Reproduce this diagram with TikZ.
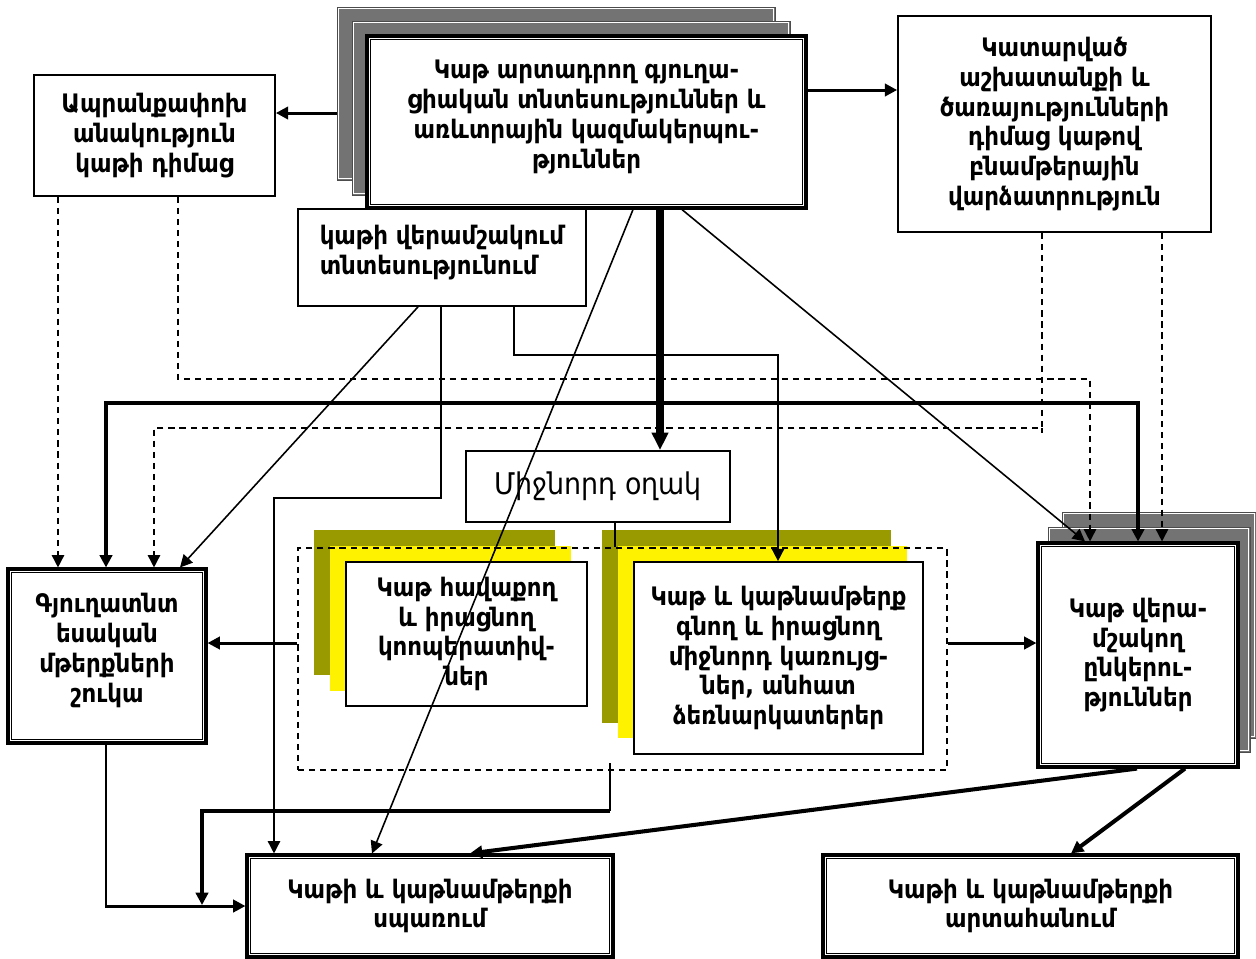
\documentclass[tikz,border=0pt]{standalone}
\usepackage{fontspec}
\newfontfamily\arm{DejaVu Sans Condensed}
\usetikzlibrary{arrows.meta}
\definecolor{olivey}{RGB}{153,153,0}
\definecolor{shgray}{gray}{0.45}
\newcommand\innerframe[1]{\draw[line width=0.6pt] ([shift={(5,5)}]#1.north west) rectangle ([shift={(-5,-5)}]#1.south east);}
\newcommand\shline[1]{\draw[white, line width=0.4pt] ([shift={(2,2)}]#1.north west) rectangle ([shift={(-2,-2)}]#1.south east);}
\begin{document}
\begin{tikzpicture}[x=0.02cm,y=-0.02cm,
  tx/.style={font=\arm\bfseries\fontsize{14.5}{17}\selectfont, align=center},
  box/.style={draw, line width=1pt, fill=white, tx, inner sep=0pt},
  dbox/.style={box, line width=1.8pt},
  shadowg/.style={draw=black!70, line width=0.4pt, fill=shgray, inner sep=0pt},
  flat/.style={inner sep=0pt, draw=none},
  ln/.style={line width=0.9pt},
  med/.style={line width=1.7pt},
  thk/.style={line width=2.3pt},
  dsh/.style={line width=0.9pt, dash pattern=on 3.5pt off 2.8pt},
  arr/.style={-{Triangle[length=7pt,width=7pt]}},
  barr/.style={{Triangle[length=7pt,width=7pt]}-{Triangle[length=7pt,width=7pt]}}
]
\useasboundingbox (0,0) rectangle (1256,958);

% shadows
\node[shadowg, minimum width=8.76cm, minimum height=3.46cm] (As1) at (556,93.5) {};
\shline{As1}
\node[shadowg, minimum width=8.76cm, minimum height=3.48cm] (As2) at (571,108) {};
\shline{As2}
\node[shadowg, minimum width=3.88cm, minimum height=4.52cm] (Is1) at (1159,625) {};
\shline{Is1}
\node[shadowg, minimum width=4.04cm, minimum height=4.50cm] (Is2) at (1149,639.5) {};
\shline{Is2}
\node[flat, fill=olivey, minimum width=4.82cm, minimum height=2.90cm] (Fo) at (434.5,602.5) {};
\node[flat, fill=yellow, minimum width=4.82cm, minimum height=2.90cm] (Fy) at (450.5,618.5) {};
\node[flat, fill=olivey, minimum width=5.78cm, minimum height=3.86cm] (Go) at (746.5,626.5) {};
\node[flat, fill=yellow, minimum width=5.78cm, minimum height=3.84cm] (Gy) at (762.5,642) {};

% dashed group
\node[dsh, draw, minimum width=12.98cm, minimum height=4.44cm, inner sep=0pt] (grp) at (622.5,659) {};

% boxes
\node[dbox, minimum width=8.78cm, minimum height=3.44cm] (A) at (586.5,122) {Կաթ արտադրող գյուղա-\\ցիական տնտեսություններ և\\առևտրային կազմակերպու-\\թյուններ\\[-8pt]\mbox{}};
\node[box, minimum width=4.82cm, minimum height=2.42cm] (B) at (154.5,135.5) {Ապրանքափոխ\\անակություն\\կաթի դիմաց};
\node[box, minimum width=6.26cm, minimum height=4.32cm] (C) at (1054.5,124) {Կատարված\\աշխատանքի և\\ծառայությունների\\դիմաց կաթով\\բնամթերային\\վարձատրություն};
\node[box, minimum width=5.76cm, minimum height=1.94cm, align=left] (D) at (442,257.5) {կաթի վերամշակում\\տնտեսությունում\\[-8pt]\mbox{}};
\node[box, minimum width=5.28cm, minimum height=1.42cm, font=\arm\fontsize{17}{20}\selectfont] (E) at (598,486.5) {Միջնորդ օղակ};
\node[box, minimum width=4.82cm, minimum height=2.88cm] (F) at (466.5,634) {Կաթ հավաքող\\և իրացնող\\կոոպերատիվ-\\ներ};
\node[box, minimum width=5.78cm, minimum height=3.84cm] (G) at (778.5,658) {Կաթ և կաթնամթերք\\գնող և իրացնող\\միջնորդ կառույց-\\ներ, անհատ\\ձեռնարկատերեր};
\node[dbox, minimum width=3.96cm, minimum height=3.48cm] (H) at (107,656) {Գյուղատնտ\\եսական\\մթերքների\\շուկա\\[-8pt]\mbox{}};
\node[dbox, minimum width=4.00cm, minimum height=4.48cm] (I) at (1138,655) {Կաթ վերա-\\մշակող\\ընկերու-\\թյուններ};
\node[dbox, minimum width=7.32cm, minimum height=2.04cm] (J) at (430,906) {Կաթի և կաթնամթերքի\\սպառում};
\node[dbox, minimum width=8.30cm, minimum height=2.04cm] (K) at (1030.5,906) {Կաթի և կաթնամթերքի\\արտահանում};
\innerframe{A}\innerframe{H}\innerframe{I}\innerframe{J}\innerframe{K}

\coordinate (hj) at (202,905);

% connectors
\draw[med, arr] (As1.west |- 0,113) -- (B.east |- 0,113);
\draw[med, arr] (A.east |- 0,90) -- (C.west |- 0,90);
\draw[line width=4pt, -{Triangle[length=10pt,width=9pt]}] (660,0 |- A.south) -- (660,0 |- E.north);
\draw[ln, arr] (633,0 |- A.south) -- (372,0 |- J.north);
\draw[ln, arr] (682,0 |- A.south) -- (1085,0 |- I.north);

\draw[ln, arr] (418,0 |- D.south) -- (180,0 |- H.north);
\draw[ln, arr] (441,0 |- D.south) -- (441,498) -| (274,0 |- J.north);
\draw[ln, arr] (514,0 |- D.south) -- (514,355) -| (778,0 |- G.north);
\draw[ln] (615,0 |- E.south) -- (615,0 |- grp.north);

\draw[dsh, arr] (58,0 |- B.south) -- (58,0 |- H.north);
\draw[dsh, arr] (178,0 |- B.south) -- (178,379) -| (1090,0 |- I.north);
\draw[dsh, arr] (1042,0 |- C.south) -- (1042,428) -| (154,0 |- H.north);
\draw[dsh] (1042,428) -- (1042,433);
\draw[dsh, arr] (1162,0 |- C.south) -- (1162,0 |- I.north);

\draw[thk, barr] (106,0 |- H.north) |- (1138,403) -- (1138,0 |- I.north);

\draw[med, arr] (grp.west |- 0,643) -- (H.east |- 0,643);
\draw[med, arr] (grp.east |- 0,643) -- (I.west |- 0,643);

\draw[ln] (610,763) -- (610,811);
\draw[line width=2.8pt, arr] (610,811) -- (202,811) -- (hj);
\draw[med, arr] (106,0 |- H.south) |- (J.west);

\draw[thk, arr] (1137,0 |- I.south) -- (470,0 |- J.north);
\draw[thk, arr] (1185,0 |- I.south) -- (1071,0 |- K.north);
\end{tikzpicture}
\end{document}
